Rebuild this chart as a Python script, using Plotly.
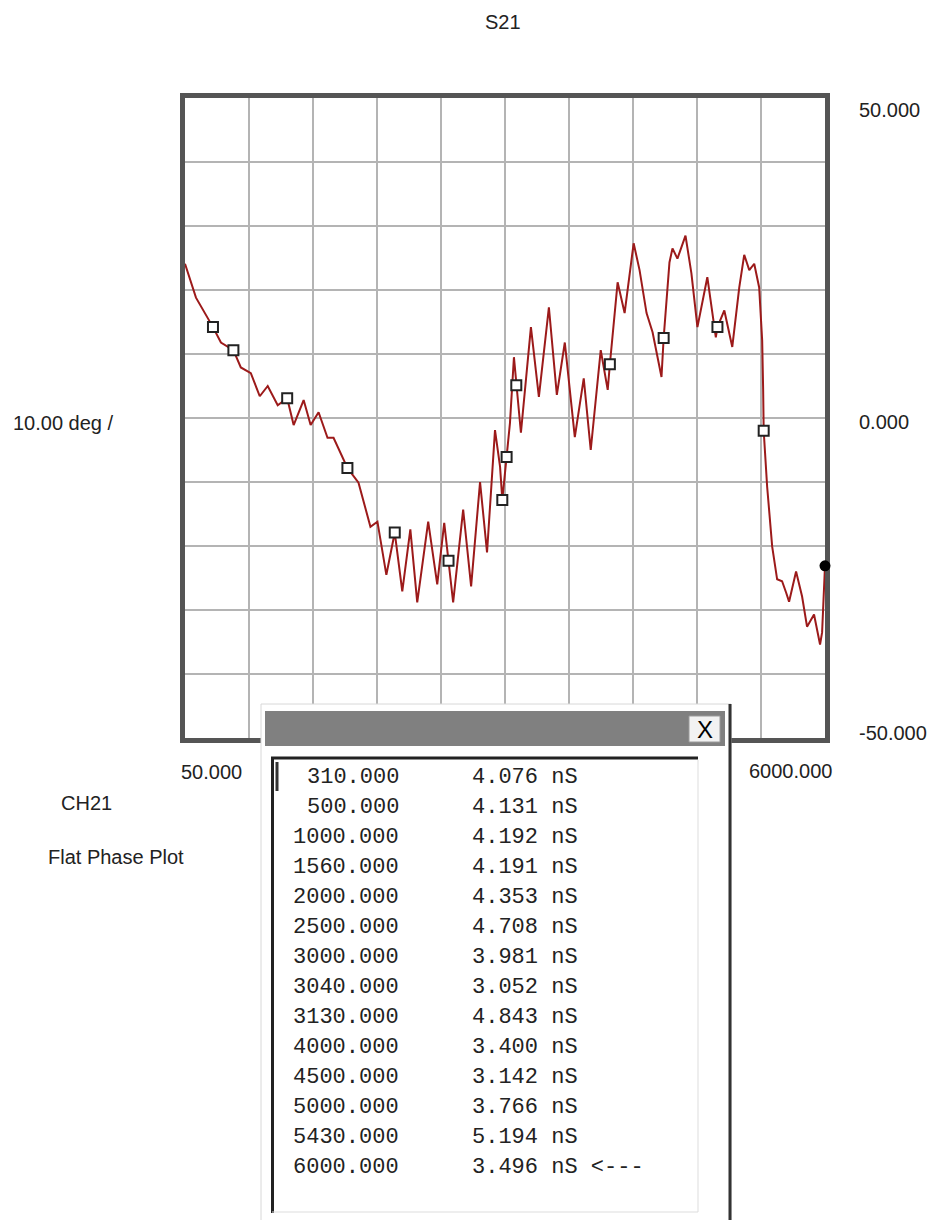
import plotly.graph_objects as go

# ---- data ----
freq_mhz = [50, 152, 310, 384, 500, 569, 662, 745, 819, 912,
            1000, 1060, 1153, 1218, 1292, 1375, 1431, 1560, 1663, 1774,
            1839, 1922, 2000, 2070, 2145, 2209, 2311, 2395, 2460, 2500,
            2543, 2636, 2710, 2793, 2858, 2932, 2979, 3000, 3040, 3071,
            3108, 3130, 3173, 3266, 3340, 3433, 3507, 3581, 3674, 3757,
            3822, 3915, 3980, 4000, 4072, 4137, 4221, 4276, 4341, 4397,
            4480, 4500, 4554, 4582, 4628, 4703, 4758, 4814, 4906, 4985,
            5000, 5064, 5138, 5203, 5249, 5296, 5342, 5388, 5416, 5425,
            5430, 5462, 5509, 5555, 5601, 5639, 5666, 5731, 5787, 5833,
            5898, 5954, 5973, 6000]
phase_deg = [24.1, 18.8, 14.2, 11.8, 10.6, 7.9, 7.0, 3.4, 5.0, 2.0,
             3.1, -1.1, 2.8, -1.1, 0.9, -3.1, -3.1, -7.8, -10.1, -17.0,
             -16.2, -24.5, -17.9, -27.1, -17.4, -28.8, -16.2, -26.0, -16.4, -22.3,
             -28.8, -14.3, -26.3, -10.0, -21.0, -1.9, -7.6, -12.8, -6.1, -0.8,
             9.5, 5.1, -2.3, 14.2, 3.3, 17.3, 3.6, 11.8, -3.0, 6.2,
             -5.0, 10.6, 4.4, 8.4, 21.2, 16.4, 27.3, 23.1, 16.4, 13.4,
             6.4, 12.5, 24.3, 26.5, 24.9, 28.5, 22.6, 14.2, 22.0, 12.6,
             14.2, 16.8, 11.1, 20.4, 25.5, 23.1, 24.1, 20.4, 12.1, 4.4,
             -2.0, -10.7, -20.1, -25.2, -25.5, -27.3, -28.7, -24.0, -27.9, -32.6,
             -30.7, -35.4, -33.5, -23.1]

marker_freq = [310, 500, 1000, 1560, 2000, 2500, 3000, 3040, 3130, 4000, 4500, 5000, 5430]
marker_phase = [14.2, 10.6, 3.1, -7.8, -17.9, -22.3, -12.8, -6.1, 5.1, 8.4, 12.5, 14.2, -2.0]
active_freq = [6000]
active_phase = [-23.1]

table_freq = [310, 500, 1000, 1560, 2000, 2500, 3000, 3040, 3130, 4000, 4500, 5000, 5430, 6000]
table_delay_ns = [4.076, 4.131, 4.192, 4.191, 4.353, 4.708, 3.981, 3.052, 4.843,
                  3.400, 3.142, 3.766, 5.194, 3.496]
active_row = 13

x_range = [50, 6000]
y_range = [-50, 50]
y_div = 10

# ---- layout geometry ----
W, H = 934, 1220
L, R, T, B = 185, 825, 98, 738


def P(px, py):
    return (px - L) / (R - L), (B - py) / (B - T)


fig = go.Figure()
fig.add_trace(go.Scatter(x=freq_mhz, y=phase_deg, mode="lines",
                         line=dict(color="#9c1a1a", width=2), hoverinfo="skip"))
fig.add_trace(go.Scatter(x=marker_freq, y=marker_phase, mode="markers", cliponaxis=False,
                         marker=dict(symbol="square", size=10, color="white",
                                     line=dict(color="#222", width=2))))
fig.add_trace(go.Scatter(x=active_freq, y=active_phase, mode="markers", cliponaxis=False,
                         marker=dict(symbol="circle", size=11, color="black")))

frame = dict(showline=True, linewidth=5, linecolor="#555555", mirror=True,
             showgrid=True, gridcolor="#b4b4b4", gridwidth=1.5,
             zeroline=False, showticklabels=False, ticks="", layer="below traces")
fig.update_xaxes(range=x_range, tick0=x_range[0], dtick=(x_range[1] - x_range[0]) / 10, **frame)
fig.update_yaxes(range=y_range, tick0=y_range[0], dtick=y_div, **frame)

fig.update_layout(width=W, height=H, margin=dict(l=L, r=W - R, t=T, b=H - B),
                  paper_bgcolor="white", plot_bgcolor="white", showlegend=False)

ann = []
sans = dict(family="Liberation Sans, Arial, sans-serif", size=20, color="#222")
mono = dict(family="Liberation Mono, Courier New, monospace", size=22, color="#222")


def text(s, px, py, anchor="left", font=sans):
    x, y = P(px, py)
    ann.append(dict(text=s, x=x, y=y, xref="paper", yref="paper", xanchor=anchor,
                    yanchor="middle", showarrow=False, font=font))


text("S21", 503, 22, "center")
text(f"{y_range[1]:.3f}", 857, 110)
text(f"{0:.3f}", 857, 422)
text(f"{y_range[0]:.3f}", 857, 733)
text(f"{y_div:.2f} deg /", 11, 423)
text(f"{x_range[0]:.3f}", 179, 772)
text(f"{x_range[1]:.3f}", 834, 771, "right")
text("CH21", 59, 803)
text("Flat Phase Plot", 46, 857)

# ---- marker readout dialog ----
shapes = []


def rect(x0, y0, x1, y1, fill, line="rgba(0,0,0,0)", lw=0):
    a0, b0 = P(x0, y0)
    a1, b1 = P(x1, y1)
    shapes.append(dict(type="rect", xref="paper", yref="paper", x0=a0, y0=b0, x1=a1, y1=b1,
                       fillcolor=fill, line=dict(color=line, width=lw), layer="above"))


def seg(x0, y0, x1, y1, color, lw):
    a0, b0 = P(x0, y0)
    a1, b1 = P(x1, y1)
    shapes.append(dict(type="line", xref="paper", yref="paper", x0=a0, y0=b0, x1=a1, y1=b1,
                       line=dict(color=color, width=lw), layer="above"))


rect(261, 704, 731, 1226, "white", "#d8d8d8", 1)
rect(265, 711, 725, 746, "#808080")
rect(689, 716, 720, 742, "#f2f2f2", "#9a9a9a", 1)
seg(730, 704, 730, 1222, "#333333", 3)
seg(271, 758, 698, 758, "#222222", 3)
seg(272.5, 757, 272.5, 1213, "#222222", 3)
seg(698, 760, 698, 1212, "#dddddd", 1)
seg(272, 1212, 698, 1212, "#dddddd", 1)
seg(277, 762, 277, 791, "#333333", 3)

text("X", 705, 729, "center", dict(family="Liberation Sans, Arial, sans-serif", size=24, color="black"))

for i, (f, d) in enumerate(zip(table_freq, table_delay_ns)):
    yy = 777 + 30 * i
    text(f"{f:.3f}", 401, yy, "right", mono)
    s = f"{d:.3f} nS" + (" <---" if i == active_row else "")
    text(s, 470, yy, "left", mono)

fig.update_layout(annotations=ann, shapes=shapes)
fig.write_html("out.html")
